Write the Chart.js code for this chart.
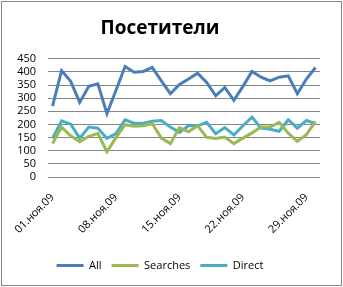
<!DOCTYPE html>
<html>
<head>
<meta charset="utf-8">
<script src="https://cdn.jsdelivr.net/npm/chart.js@4"></script>
<style>
    html, body { margin: 0; padding: 0; background: #fff; }
    canvas { display: block; }
</style>
</head>
<body>
<canvas id="chart" width="343" height="287"></canvas>
<script>
(function() {
    'use strict';

    // Days of November 2009
    var days = [
        '01.ноя.09', '02.ноя.09', '03.ноя.09', '04.ноя.09', '05.ноя.09', '06.ноя.09', '07.ноя.09',
        '08.ноя.09', '09.ноя.09', '10.ноя.09', '11.ноя.09', '12.ноя.09', '13.ноя.09', '14.ноя.09',
        '15.ноя.09', '16.ноя.09', '17.ноя.09', '18.ноя.09', '19.ноя.09', '20.ноя.09', '21.ноя.09',
        '22.ноя.09', '23.ноя.09', '24.ноя.09', '25.ноя.09', '26.ноя.09', '27.ноя.09', '28.ноя.09',
        '29.ноя.09', '30.ноя.09'
    ];

    // Visitors per day
    var allVisits = [270, 405, 364, 284, 345, 355, 241, 330, 421, 399, 402, 417, 366, 317, 352,
                     373, 395, 360, 309, 341, 292, 345, 402, 380, 366, 380, 385, 317, 373, 417];
    var searchVisits = [127, 190, 157, 134, 155, 165, 96, 150, 199, 193, 195, 203, 148, 127, 188,
                        172, 195, 151, 147, 152, 127, 148, 168, 190, 190, 208, 167, 136, 161, 212];
    var directVisits = [147, 214, 201, 148, 190, 186, 147, 165, 218, 205, 205, 212, 215, 190, 170,
                        195, 195, 208, 165, 188, 160, 195, 228, 186, 182, 174, 218, 186, 215, 203];

    // Axis settings
    var yMin = 0, yMax = 450, yStep = 50;
    var labelEvery = 7;

    var FONT = "'Open Sans', 'DejaVu Sans', sans-serif";
    var GRID = '#868686';

    function serie(label, data, color) {
        return {
            label: label,
            data: data,
            borderColor: color,
            backgroundColor: color,
            borderWidth: 3,
            pointRadius: 0,
            tension: 0
        };
    }

    // Frame around the whole chart, like the spreadsheet chart area
    var framePlugin = {
        id: 'frame',
        beforeDraw: function(chart) {
            var ctx = chart.ctx;
            ctx.save();
            ctx.fillStyle = '#fff';
            ctx.fillRect(0, 0, chart.width, chart.height);
            ctx.strokeStyle = GRID;
            ctx.lineWidth = 1;
            ctx.strokeRect(1.5, 1.5, chart.width - 3, chart.height - 3);
            ctx.restore();
        }
    };

    new Chart(document.getElementById('chart'), {
        type: 'line',
        data: {
            labels: days,
            datasets: [
                serie('All', allVisits, '#4A7EBB'),
                serie('Searches', searchVisits, '#98B954'),
                serie('Direct', directVisits, '#4BACC6')
            ]
        },
        plugins: [framePlugin],
        options: {
            responsive: false,
            animation: false,
            events: [],
            layout: { padding: { left: 0, right: 23, top: 0, bottom: 6 } },
            plugins: {
                title: {
                    display: true,
                    text: 'Посетители',
                    color: '#000',
                    font: { family: FONT, size: 19, weight: 'bold' },
                    padding: { top: 17, bottom: 19 }
                },
                legend: {
                    position: 'bottom',
                    labels: {
                        color: '#000',
                        font: { family: FONT, size: 11 },
                        boxWidth: 27,
                        boxHeight: 3,
                        padding: 10,
                        generateLabels: function(chart) {
                            var items = Chart.defaults.plugins.legend.labels.generateLabels(chart);
                            items.forEach(function(item) {
                                item.lineWidth = 0;
                            });
                            return items;
                        }
                    }
                },
                tooltip: { enabled: false }
            },
            scales: {
                x: {
                    offset: true,
                    grid: { display: false },
                    border: { display: false },
                    ticks: {
                        autoSkip: false,
                        minRotation: 45,
                        maxRotation: 45,
                        padding: 6,
                        color: '#000',
                        font: { family: FONT, size: 11 },
                        callback: function(value, index) {
                            return index % labelEvery === 0 ? days[index] : '';
                        }
                    },
                    afterFit: function(scale) {
                        scale.height = 73;
                    }
                },
                y: {
                    min: yMin,
                    max: yMax,
                    grid: { color: GRID, lineWidth: 1, drawTicks: false },
                    border: { display: false },
                    ticks: {
                        stepSize: yStep,
                        autoSkip: false,
                        padding: 12,
                        color: '#000',
                        font: { family: FONT, size: 11 }
                    },
                    afterFit: function(scale) {
                        scale.width = 48;
                    }
                }
            }
        }
    });
})();
</script>
</body>
</html>
